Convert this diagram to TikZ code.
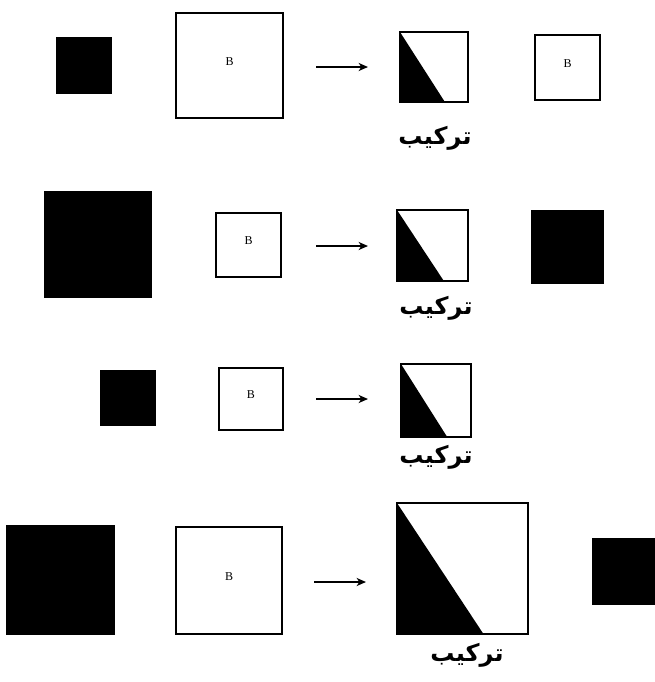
\documentclass[tikz,border=0pt]{standalone}
\usepackage{fontspec}
\setmainfont{Liberation Serif}
\newfontfamily\arabicfont[Script=Arabic]{DejaVu Sans}
\TeXXeTstate=1
\usetikzlibrary{fit,calc,arrows.meta}
\tikzset{
  blk/.style={fill=black, draw=black, inner sep=0pt, line width=0.8pt},
  bbox/.style={draw=black, fill=white, inner sep=0pt, line width=1.1pt, font=\fontsize{9}{10}\selectfont},
  comp/.style={draw=black, inner sep=0pt, line width=1.1pt,
    path picture={\fill[black] (path picture bounding box.north west) -- (path picture bounding box.south west) -- ($(path picture bounding box.south west)!0.66!(path picture bounding box.south east)$) -- cycle;}},
  lbl/.style={font=\arabicfont\bfseries\fontsize{18}{20}\selectfont, inner sep=0pt},
  arr/.style={-{Stealth[length=7pt,width=6pt,inset=2pt]}, line width=1.3pt}
}
\begin{document}
\begin{tikzpicture}[x=0.75pt,y=-0.75pt]
\useasboundingbox (0,0) rectangle (654,682);
% Row 1
\node[blk, fit={(57,38) (111,93)}] (k1) {};
\node[bbox, fit={(176,13) (283,118)}] (b1) {B};
\coordinate (a1s) at (316,67);
\coordinate (a1e) at (368,67);
\draw[arr] (a1s) -- (a1e);
\node[comp, fit={(400,32) (468,102)}] (c1) {};
\node[bbox, fit={(535,35) (600,100)}] (r1) {B};
\node[lbl] (t1) at (435,138) {\beginR ترکیب\endR};
% Row 2
\node[blk, fit={(45,192) (151,297)}] (k2) {};
\node[bbox, fit={(216,213) (281,277)}] (b2) {B};
\coordinate (a2s) at (316,246);
\coordinate (a2e) at (368,246);
\draw[arr] (a2s) -- (a2e);
\node[comp, fit={(397,210) (468,281)}] (c2) {};
\node[blk, fit={(532,211) (603,283)}] (r2) {};
\node[lbl] (t2) at (436,308) {\beginR ترکیب\endR};
% Row 3
\node[blk, fit={(101,371) (155,425)}] (k3) {};
\node[bbox, fit={(219,368) (283,430)}] (b3) {B};
\coordinate (a3s) at (316,399);
\coordinate (a3e) at (368,399);
\draw[arr] (a3s) -- (a3e);
\node[comp, fit={(401,364) (471,437)}] (c3) {};
\node[lbl] (t3) at (436,457) {\beginR ترکیب\endR};
% Row 4
\node[blk, fit={(7,526) (114,634)}] (k4) {};
\node[bbox, fit={(176,527) (282,634)}] (b4) {B};
\coordinate (a4s) at (314,582);
\coordinate (a4e) at (366,582);
\draw[arr] (a4s) -- (a4e);
\node[comp, fit={(397,503) (528,634)}] (c4) {};
\node[blk, fit={(593,539) (660,604)}] (r4) {};
\node[lbl] (t4) at (467,655) {\beginR ترکیب\endR};
\end{tikzpicture}
\end{document}
